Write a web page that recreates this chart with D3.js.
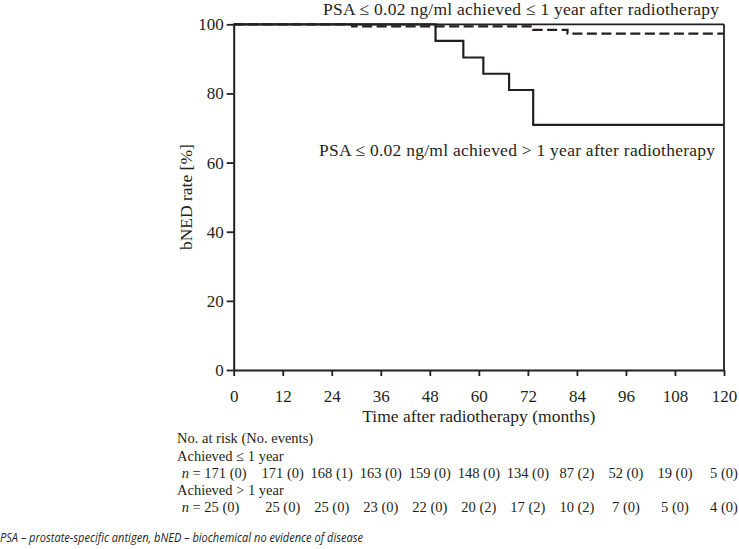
<!DOCTYPE html>
<html>
<head>
<meta charset="utf-8">
<script src="https://cdn.jsdelivr.net/npm/d3@7"></script>
<style>
  html, body { margin: 0; padding: 0; background: #fff; }
  svg { display: block; }
</style>
</head>
<body>
<div id="chart"></div>
<script>
// ---- data ----
const xTicks = [0, 12, 24, 36, 48, 60, 72, 84, 96, 108, 120];
const yTicks = [0, 20, 40, 60, 80, 100];

// PSA <= 0.02 achieved <= 1 year (dashed)
const early_t = [0, 29, 73.3, 81.7, 120];
const early_v = [100, 99.4, 98.4, 97.3, 97.3];

// PSA <= 0.02 achieved > 1 year (solid)
const late_t = [0, 49.4, 56.2, 61.1, 67.4, 73.3, 120];
const late_v = [100, 95.2, 90.4, 85.7, 81.0, 70.9, 70.9];

const earlyLabel = "PSA \u2264 0.02 ng/ml achieved \u2264 1 year after radiotherapy";
const lateLabel = "PSA \u2264 0.02 ng/ml achieved > 1 year after radiotherapy";
const xTitle = "Time after radiotherapy (months)";
const yTitle = "bNED rate [%]";

const riskTitle = "No. at risk (No. events)";
const group1 = "Achieved \u2264 1 year";
const group2 = "Achieved > 1 year";
const risk1 = [171, 171, 168, 163, 159, 148, 134, 87, 52, 19, 5];
const events1 = [0, 0, 1, 0, 0, 0, 0, 2, 0, 0, 0];
const risk2 = [25, 25, 25, 23, 22, 20, 17, 10, 7, 5, 4];
const events2 = [0, 0, 0, 0, 0, 2, 2, 2, 0, 0, 0];

const footnote = "PSA \u2013 prostate-specific antigen, bNED \u2013 biochemical no evidence of disease";

// ---- drawing ----
const W = 739, H = 549;
const ink = "#231f20";
const serif = "'Liberation Serif', 'Times New Roman', serif";

const svg = d3.select("#chart").append("svg")
  .attr("width", W).attr("height", H)
  .style("font-family", serif);

const x = d3.scaleLinear().domain([0, 120]).range([233.7, 724]);
const y = d3.scaleLinear().domain([0, 100]).range([370, 24.3]);

// curves
const line = d3.line().x(d => x(d[0])).y(d => y(d[1])).curve(d3.curveStepAfter);
const earlyPts = early_t.map((t, i) => [t, early_v[i]]);
const latePts = late_t.map((t, i) => [t, late_v[i]]);

svg.append("path").datum(latePts).attr("d", line)
  .attr("fill", "none").attr("stroke", ink).attr("stroke-width", 2.2);
svg.append("path").datum(earlyPts).attr("d", line)
  .attr("fill", "none").attr("stroke", ink).attr("stroke-width", 2.2)
  .attr("stroke-dasharray", "10,4.5");

// box (top and right)
svg.append("line").attr("x1", x(0)).attr("x2", x(120)).attr("y1", y(100)).attr("y2", y(100))
  .attr("stroke", ink).attr("stroke-width", 1.8);
svg.append("line").attr("x1", x(120)).attr("x2", x(120)).attr("y1", y(100)).attr("y2", y(0))
  .attr("stroke", ink).attr("stroke-width", 1.8);

// axes
const yAxis = svg.append("g").attr("transform", `translate(${x(0)},0)`)
  .call(d3.axisLeft(y).tickValues(yTicks).tickSize(7).tickSizeOuter(0).tickPadding(3));
const xAxis = svg.append("g").attr("transform", `translate(0,${y(0)})`)
  .call(d3.axisBottom(x).tickValues(xTicks).tickSize(6).tickSizeOuter(0));

[yAxis, xAxis].forEach(g => {
  g.attr("font-family", null).attr("font-size", null);
  g.select(".domain").attr("stroke", ink).attr("stroke-width", 2);
  g.selectAll(".tick line").attr("stroke", ink).attr("stroke-width", 1.8);
  g.selectAll(".tick text").attr("fill", ink)
    .style("font-family", serif).style("font-size", "17px");
});
xAxis.selectAll(".tick text").attr("dy", null).attr("y", 31.5);

// axis titles
svg.append("text").attr("x", (x(0) + x(120)) / 2).attr("y", 422)
  .attr("text-anchor", "middle").attr("fill", ink).style("font-size", "17.5px").text(xTitle);
svg.append("text").attr("transform", `translate(192,${(y(0) + y(100)) / 2}) rotate(-90)`)
  .attr("text-anchor", "middle").attr("fill", ink).style("font-size", "17.5px").text(yTitle);

// curve labels
svg.append("text").attr("x", 719).attr("y", 14.5).attr("text-anchor", "end")
  .attr("fill", ink).style("font-size", "17.5px")
  .attr("textLength", 396).attr("lengthAdjust", "spacing").text(earlyLabel);
svg.append("text").attr("x", 715).attr("y", 156).attr("text-anchor", "end")
  .attr("fill", ink).style("font-size", "17.5px")
  .attr("textLength", 396).attr("lengthAdjust", "spacing").text(lateLabel);

// risk table
const tfs = "14.5px";
svg.append("text").attr("x", 177).attr("y", 443.3).attr("fill", ink).style("font-size", tfs).text(riskTitle);
svg.append("text").attr("x", 177).attr("y", 460.7).attr("fill", ink).style("font-size", tfs).text(group1);
svg.append("text").attr("x", 177).attr("y", 495).attr("fill", ink).style("font-size", tfs).text(group2);

function riskRow(risk, ev, yy) {
  risk.forEach((r, i) => {
    const t = svg.append("text").attr("y", yy).attr("fill", ink).style("font-size", tfs);
    if (i === 0) {
      t.attr("x", 181.7).attr("text-anchor", "start");
      t.append("tspan").style("font-style", "italic").text("n");
      t.append("tspan").text(` = ${r} (${ev[i]})`);
    } else {
      t.attr("x", x(xTicks[i])).attr("text-anchor", "middle").text(`${r} (${ev[i]})`);
    }
  });
}
riskRow(risk1, events1, 478.3);
riskRow(risk2, events2, 512.3);

// footnote
svg.append("text").attr("x", 0).attr("y", 542)
  .attr("fill", ink)
  .style("font-family", "'Open Sans', 'Noto Sans', sans-serif")
  .style("font-style", "italic").style("font-size", "12px")
  .attr("textLength", 363).attr("lengthAdjust", "spacingAndGlyphs")
  .text(footnote);
</script>
</body>
</html>
